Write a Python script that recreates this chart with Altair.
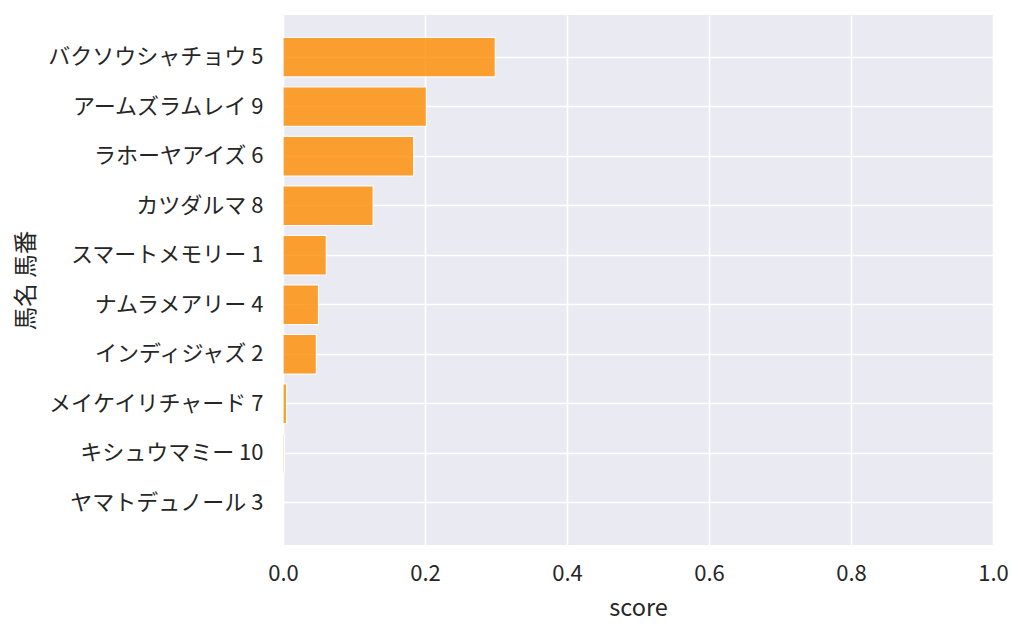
import altair as alt
import pandas as pd

# horse names with their numbers, in the plotted order (highest score first)
horses = [
    "バクソウシャチョウ 5",
    "アームズラムレイ 9",
    "ラホーヤアイズ 6",
    "カツダルマ 8",
    "スマートメモリー 1",
    "ナムラメアリー 4",
    "インディジャズ 2",
    "メイケイリチャード 7",
    "キシュウマミー 10",
    "ヤマトデュノール 3",
]
scores = [0.299, 0.202, 0.184, 0.127, 0.061, 0.050, 0.047, 0.005, 0.002, 0.0]

df = pd.DataFrame({"馬名 馬番": horses, "score": scores})

font = "Noto Sans CJK JP"

chart = alt.Chart(df).mark_bar(
    color="darkorange", opacity=0.8, stroke="white", strokeWidth=1.2
).encode(
    x=alt.X("score:Q", title="score",
            scale=alt.Scale(domain=[0, 1], nice=False),
            axis=alt.Axis(values=[0, 0.2, 0.4, 0.6, 0.8, 1.0], format=".1f",
                          labelFlush=False, labelPadding=18, titlePadding=12)),
    y=alt.Y("馬名 馬番:N", title="馬名 馬番", sort=horses,
            scale=alt.Scale(paddingInner=0.2, paddingOuter=0.45),
            axis=alt.Axis(labelPadding=20, labelLimit=0,
                          titleX=-257, titleBaseline="middle")),
).properties(
    width=710,
    height=530,
    autosize=alt.AutoSizeParams(type="none"),
    padding={"left": 275, "top": 7, "right": 20, "bottom": 80},
).configure_view(
    fill="#EAEAF2", stroke=None
).configure_axis(
    grid=True, gridColor="white", gridWidth=1.6, domain=False, ticks=False,
    labelFont=font, titleFont=font, labelFontSize=22, titleFontSize=23.5,
    labelColor="#262626", titleColor="#262626", titleFontWeight="normal",
)

chart.save("out.html", embed_options={"renderer": "svg", "actions": False})
